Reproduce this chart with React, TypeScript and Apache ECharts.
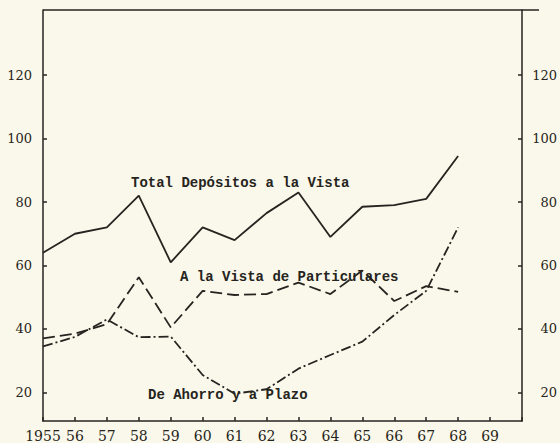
import React, { useEffect, useRef } from "react";
import * as echarts from "echarts";

const years = ["1955", "56", "57", "58", "59", "60", "61", "62", "63", "64", "65", "66", "67", "68", "69", ""];
const totalVista = [64, 70, 72, 82, 61, 72, 68, 76.5, 83, 69, 78.5, 79, 81, 94.5];
const vistaParticulares = [37, 38.5, 41.5, 56.3, 40.5, 52, 50.7, 51, 54.6, 51, 58.4, 48.8, 53.5, 51.7];
const ahorroPlazo = [34.5, 37.5, 43, 37.4, 37.6, 25.5, 19.6, 21, 27.5, 31.8, 36, 44.4, 52, 72];
const yTicks = [20, 40, 60, 80, 100, 120];

const INK = "#262420";
const FONT = "DejaVu Serif";
const LABEL_FONT = "Liberation Mono";

export default function App() {
  const ref = useRef<HTMLDivElement>(null);
  useEffect(() => {
    if (!ref.current) return;
    const chart = echarts.init(ref.current, undefined, { renderer: "svg" });
    const yAxisBase = (position: "left" | "right") => ({
      type: "value" as const,
      position,
      min: 11,
      max: 140.5,
      axisLine: { show: true, lineStyle: { color: INK, width: 1.5 } },
      axisTick: { show: true, inside: true, length: 4, customValues: yTicks, lineStyle: { color: INK, width: 1.5 } },
      axisLabel: {
        customValues: yTicks,
        fontFamily: FONT,
        fontSize: 13,
        color: INK,
        margin: position === "left" ? 11 : 35,
        align: "right",
      },
      splitLine: { show: false },
    });
    const note = (text: string, x: number, y: number) => ({
      type: "text",
      x,
      y,
      style: { text, fontFamily: LABEL_FONT, fontSize: 14, fontWeight: 600, fill: INK, verticalAlign: "middle" },
    });
    chart.setOption({
      animation: false,
      backgroundColor: "#faf8ea",
      grid: { left: 43, right: 36, top: 10, bottom: 22 },
      xAxis: {
        type: "category",
        data: years,
        boundaryGap: false,
        axisLine: { lineStyle: { color: INK, width: 1.5 } },
        axisTick: { inside: true, length: 4, interval: 0, lineStyle: { color: INK, width: 1.5 } },
        axisLabel: { interval: 0, fontFamily: FONT, fontSize: 14, color: INK, margin: 8 },
        splitLine: { show: false },
      },
      yAxis: [yAxisBase("left"), yAxisBase("right")],
      graphic: [
        { type: "line", shape: { x1: 43, y1: 10, x2: 539, y2: 10 }, style: { stroke: INK, lineWidth: 1.5 } },
        note("Total Depósitos a la Vista", 131, 183),
        note("A la Vista de Particulares", 180, 277),
        note("De Ahorro y a Plazo", 148, 395),
      ],
      series: [
        {
          name: "Total Depósitos a la Vista",
          type: "line",
          data: totalVista,
          symbol: "none",
          lineStyle: { color: INK, width: 1.8, type: "solid" },
        },
        {
          name: "A la Vista de Particulares",
          type: "line",
          data: vistaParticulares,
          symbol: "none",
          lineStyle: { color: INK, width: 1.8, type: [12, 5] },
        },
        {
          name: "De Ahorro y a Plazo",
          type: "line",
          data: ahorroPlazo,
          symbol: "none",
          lineStyle: { color: INK, width: 1.8, type: [10, 3, 2, 3] },
        },
      ],
    });
    return () => chart.dispose();
  }, []);
  return <div ref={ref} style={{ position: "fixed", left: 0, top: 0, width: 560, height: 443 }} />;
}
